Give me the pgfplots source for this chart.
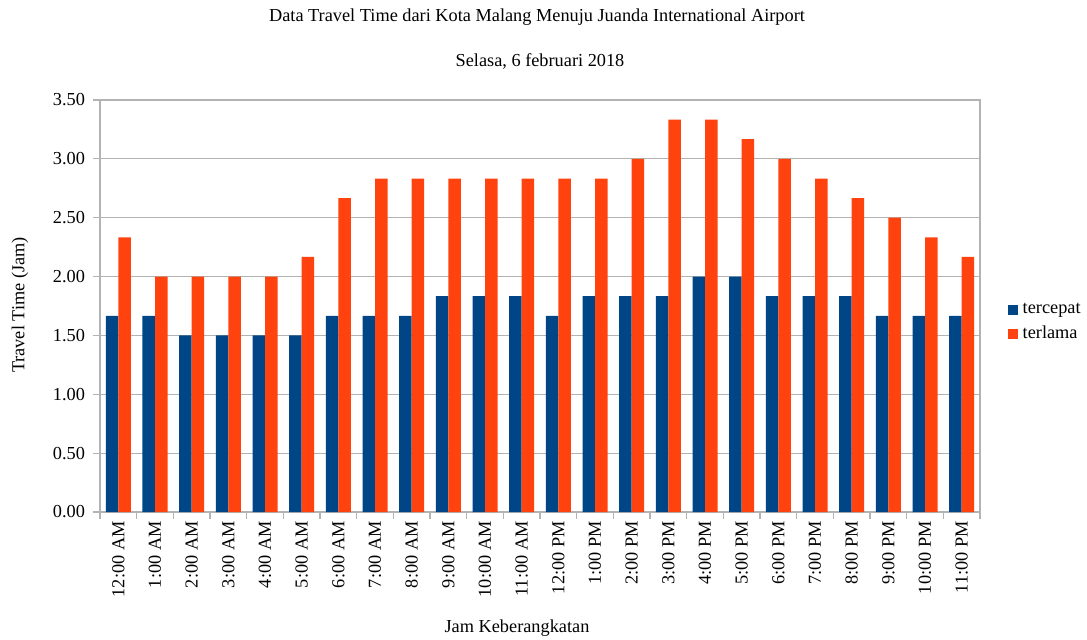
\documentclass[border=0pt]{standalone}
\usepackage{pgfplots}
\pgfplotsset{compat=1.18}
\usepackage{fontspec}
\setmainfont{Liberation Serif}
\definecolor{cblue}{HTML}{004586}
\definecolor{corange}{HTML}{FF420E}
\definecolor{gridgray}{HTML}{B3B3B3}
\newcommand{\ff}{\fontsize{9.15}{10.5}\selectfont}
\begin{document}
\begin{tikzpicture}
\path[use as bounding box] (-50pt,-63.5pt) rectangle (493.5pt,256pt);
\begin{axis}[
  at={(0,0)}, anchor=south west,
  scale only axis, width=440pt, height=206pt,
  ybar, bar width=6.25pt, ybar=0pt,
  xmin=-0.5, xmax=23.5, ymin=0, ymax=3.5,
  ytick={0,0.5,...,3.5},
  yticklabel style={/pgf/number format/fixed, /pgf/number format/fixed zerofill, /pgf/number format/precision=2, /pgf/number format/assume math mode=true, xshift=-0.5pt},
  xtick={0,...,23},
  xticklabels={12:00 AM,1:00 AM,2:00 AM,3:00 AM,4:00 AM,5:00 AM,6:00 AM,7:00 AM,8:00 AM,9:00 AM,10:00 AM,11:00 AM,12:00 PM,1:00 PM,2:00 PM,3:00 PM,4:00 PM,5:00 PM,6:00 PM,7:00 PM,8:00 PM,9:00 PM,10:00 PM,11:00 PM},
  xticklabel style={rotate=90, anchor=east, inner sep=1pt},
  minor xtick={-0.5,0.5,...,23.5},
  major x tick style={draw=none},
  minor tick length=3.5pt, major tick length=3.5pt,
  tick align=outside, tick pos=left,
  tick style={gridgray, line width=0.6pt},
  axis line style={gridgray, line width=0.6pt},
  ymajorgrids, major grid style={gridgray, line width=0.6pt},
  ticklabel style={font=\ff},
  legend style={draw=none, at={(1.031,0.46)}, anchor=west, font=\ff, row sep=1pt, inner sep=0pt,
    nodes={inner xsep=1pt}},
  legend cell align=left,
  legend image code/.code={\fill[#1] (0pt,-2.5pt) rectangle (5pt,2.5pt);},
  clip=false,
]
\addplot[fill=cblue, draw=none] coordinates {
(0,1.667) (1,1.667) (2,1.5) (3,1.5) (4,1.5) (5,1.5) (6,1.667) (7,1.667) (8,1.667) (9,1.833) (10,1.833) (11,1.833)
(12,1.667) (13,1.833) (14,1.833) (15,1.833) (16,2.0) (17,2.0) (18,1.833) (19,1.833) (20,1.833) (21,1.667) (22,1.667) (23,1.667)};
\addlegendentry{\hspace{1.5pt}tercepat}
\addplot[fill=corange, draw=none] coordinates {
(0,2.333) (1,2.0) (2,2.0) (3,2.0) (4,2.0) (5,2.167) (6,2.667) (7,2.833) (8,2.833) (9,2.833) (10,2.833) (11,2.833)
(12,2.833) (13,2.833) (14,3.0) (15,3.333) (16,3.333) (17,3.167) (18,3.0) (19,2.833) (20,2.667) (21,2.5) (22,2.333) (23,2.167)};
\addlegendentry{\hspace{1.5pt}terlama}
\end{axis}
\node[font=\ff] at (218.5pt,247.5pt) {Data Travel Time dari Kota Malang Menuju Juanda International Airport};
\node[font=\ff] at (220pt,225.5pt) {Selasa, 6 februari 2018};
\node[font=\ff, rotate=90] at (-40pt,103.5pt) {Travel Time (Jam)};
\node[font=\ff] at (208.5pt,-58pt) {Jam Keberangkatan};
\end{tikzpicture}
\end{document}
